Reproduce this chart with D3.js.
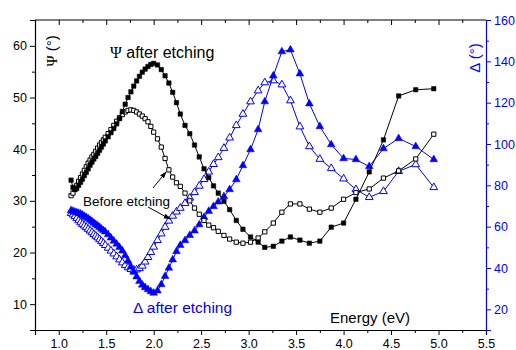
<!DOCTYPE html>
<html>
<head>
<meta charset="utf-8">
<script src="https://cdn.jsdelivr.net/npm/d3@7"></script>
<style>
  body { margin: 0; background: #fff; }
  svg { font-family: "Liberation Sans", Arial, sans-serif; }
</style>
</head>
<body>
<div id="chart"></div>
<script>
// Ellipsometry: Psi and Delta before / after etching vs photon energy

const energy = [1.13, 1.15, 1.17, 1.19, 1.21, 1.23, 1.25, 1.27, 1.29, 1.31, 1.33, 1.35, 1.37, 1.39, 1.41, 1.43, 1.45, 1.47, 1.49,
  1.52, 1.55, 1.58, 1.61, 1.64, 1.67, 1.70, 1.73, 1.76, 1.79, 1.82, 1.85, 1.88, 1.91, 1.94, 1.97, 2.00,
  2.04, 2.08, 2.12, 2.16, 2.20, 2.24, 2.28, 2.33, 2.38, 2.43, 2.48, 2.53, 2.58, 2.63, 2.68, 2.74, 2.80, 2.87, 2.94,
  3.02, 3.10, 3.17, 3.26, 3.35, 3.44, 3.54, 3.64, 3.75, 3.87, 4.00, 4.13, 4.27, 4.42, 4.58, 4.76, 4.95];

const psiAfter = [34.0, 32.6, 32.2, 32.4, 33.0, 33.6, 34.2, 34.9, 35.5, 36.2, 36.9, 37.5, 38.1, 38.6, 39.2, 39.8, 40.4, 41.0, 41.6,
  42.4, 43.2, 44.0, 44.9, 45.9, 47.3, 48.7, 50.0, 51.1, 52.2, 53.2, 54.1, 54.9, 55.5, 56.0, 56.4, 56.6,
  56.3, 55.4, 54.2, 52.8, 51.0, 49.0, 46.8, 44.6, 43.0, 40.8, 38.5, 36.2, 34.5, 32.9, 31.5, 29.9, 28.3, 26.2, 24.5,
  23.0, 22.0, 21.0, 21.2, 22.2, 23.0, 22.4, 21.8, 22.2, 24.9, 25.7, 30.3, 35.6, 41.8, 50.3, 51.5, 51.7];

const psiBefore = [31.0, 31.5, 32.2, 33.0, 33.8, 34.5, 35.2, 35.9, 36.6, 37.3, 37.9, 38.5, 39.0, 39.6, 40.2, 40.8, 41.3, 41.8, 42.3,
  43.0, 43.8, 44.6, 45.4, 46.1, 46.7, 47.2, 47.5, 47.6, 47.5, 47.2, 46.8, 46.4, 45.9, 45.3, 44.4, 43.3,
  42.0, 40.4, 38.2, 36.0, 34.6, 33.5, 32.8, 31.5, 30.0, 28.6, 27.4, 26.2, 25.3, 24.8, 24.1, 23.3, 22.6, 22.0, 21.8,
  22.0, 22.8, 24.0, 25.7, 27.8, 29.4, 29.4, 28.4, 27.8, 28.6, 30.3, 31.6, 32.3, 34.4, 35.8, 38.1, 42.9];

const deltaAfter = [67.8, 67.5, 67.1, 66.8, 66.5, 66.2, 65.6, 65.0, 64.5, 63.9, 63.2, 62.5, 61.8, 61.1, 60.4, 59.7, 58.9, 58.2, 57.5,
  56.2, 54.6, 53.1, 51.6, 50.0, 48.3, 46.0, 43.4, 40.6, 38.0, 35.8, 33.6, 31.8, 30.6, 29.6, 28.6, 27.9,
  29.0, 32.0, 36.0, 40.0, 44.0, 48.0, 51.0, 53.3, 55.8, 58.0, 61.0, 64.6, 67.5, 69.8, 72.0, 74.6, 78.0, 82.8, 89.6,
  97.3, 107.0, 120.5, 133.0, 144.7, 145.6, 134.0, 119.5, 108.5, 99.7, 93.0, 92.5, 89.1, 97.8, 102.7, 98.8, 92.5];

const deltaBefore = [66.5, 65.8, 65.0, 64.0, 63.0, 62.0, 61.2, 60.4, 59.6, 58.8, 58.0, 57.2, 56.3, 55.5, 54.7, 53.8, 52.9, 52.0, 51.0,
  49.7, 48.3, 46.9, 45.5, 44.0, 42.6, 41.3, 40.2, 39.4, 39.0, 39.2, 39.8, 41.0, 43.0, 45.2, 47.6, 50.2,
  53.4, 56.6, 59.8, 62.8, 65.2, 67.2, 69.0, 71.3, 73.9, 76.6, 79.7, 82.9, 86.5, 90.2, 93.5, 98.0, 103.0, 109.0, 114.5,
  120.5, 125.8, 129.7, 130.7, 128.7, 121.0, 108.4, 98.8, 92.7, 88.2, 83.2, 78.0, 74.2, 77.1, 86.8, 90.1, 79.0];

const xTicks = [1.0, 1.5, 2.0, 2.5, 3.0, 3.5, 4.0, 4.5, 5.0, 5.5];
const xMinor = [0.75, 1.25, 1.75, 2.25, 2.75, 3.25, 3.75, 4.25, 4.75, 5.25];
const psiTicks = [10, 20, 30, 40, 50, 60];
const psiMinor = [5, 15, 25, 35, 45, 55, 65];
const deltaTicks = [20, 40, 60, 80, 100, 120, 140, 160];
const deltaMinor = [10, 30, 50, 70, 90, 110, 130, 150];

const width = 516, height = 350;
const margin = { top: 20, right: 30, bottom: 20, left: 35 };
const blue = "#0000ff";

const svg = d3.select("#chart").append("svg")
  .attr("width", width)
  .attr("height", height);

const x = d3.scaleLinear().domain([0.75, 5.5]).range([margin.left, width - margin.right]);
const yPsi = d3.scaleLinear().domain([5, 65]).range([height - margin.bottom, margin.top]);
const yDelta = d3.scaleLinear().domain([10, 160]).range([height - margin.bottom, margin.top]);

const x0 = x.range()[0], x1 = x.range()[1];
const yb = yPsi.range()[0], yt = yPsi.range()[1];

svg.append("defs").append("marker")
  .attr("id", "arrow")
  .attr("viewBox", "0 0 10 10")
  .attr("refX", 9).attr("refY", 5)
  .attr("markerWidth", 7).attr("markerHeight", 7)
  .attr("orient", "auto")
  .append("path").attr("d", "M0,1.5L10,5L0,8.5z").attr("fill", "#000");

// series: lines first, then markers
const series = [
  { vals: deltaBefore, y: yDelta, color: blue, shape: d3.symbolTriangle, filled: false, size: 26 },
  { vals: deltaAfter, y: yDelta, color: blue, shape: d3.symbolTriangle, filled: true, size: 26 },
  { vals: psiBefore, y: yPsi, color: "#000", shape: d3.symbolSquare, filled: false, size: 18 },
  { vals: psiAfter, y: yPsi, color: "#000", shape: d3.symbolSquare, filled: true, size: 20 }
];

series.forEach(s => {
  const pts = energy.map((e, i) => [e, s.vals[i]]);
  svg.append("path")
    .datum(pts)
    .attr("fill", "none")
    .attr("stroke", s.color)
    .attr("stroke-width", 1)
    .attr("d", d3.line().x(d => x(d[0])).y(d => s.y(d[1])));
  svg.append("g").selectAll("path")
    .data(pts)
    .join("path")
    .attr("transform", d => `translate(${x(d[0])},${s.y(d[1])})`)
    .attr("d", d3.symbol().type(s.shape).size(s.size))
    .attr("fill", s.filled ? s.color : "#fff")
    .attr("stroke", s.color)
    .attr("stroke-width", s.filled ? 0.5 : 1);
});

// axes
svg.append("g")
  .attr("transform", `translate(0,${yb})`)
  .call(d3.axisBottom(x).tickValues(xTicks).tickFormat(d3.format(".1f")).tickSize(5).tickPadding(4));
svg.append("g")
  .attr("transform", `translate(0,${yb})`)
  .call(d3.axisBottom(x).tickValues(xMinor).tickFormat("").tickSize(3))
  .call(g => g.select(".domain").remove());

svg.append("g")
  .attr("transform", `translate(0,${yt})`)
  .call(d3.axisTop(x).tickValues(xTicks).tickFormat("").tickSize(-5))
  .call(g => g.select(".domain").attr("d", `M${x0},0H${x1}`));
svg.append("g")
  .attr("transform", `translate(0,${yt})`)
  .call(d3.axisTop(x).tickValues(xMinor).tickFormat("").tickSize(-3))
  .call(g => g.select(".domain").remove());

svg.append("g")
  .attr("transform", `translate(${x0},0)`)
  .call(d3.axisLeft(yPsi).tickValues(psiTicks).tickSize(5).tickPadding(3));
svg.append("g")
  .attr("transform", `translate(${x0},0)`)
  .call(d3.axisLeft(yPsi).tickValues(psiMinor).tickFormat("").tickSize(3))
  .call(g => g.select(".domain").remove());

const right = svg.append("g")
  .attr("transform", `translate(${x1},0)`)
  .call(d3.axisRight(yDelta).tickValues(deltaTicks).tickSize(5).tickPadding(3));
svg.append("g")
  .attr("transform", `translate(${x1},0)`)
  .call(d3.axisRight(yDelta).tickValues(deltaMinor).tickFormat("").tickSize(3))
  .call(g => g.select(".domain").remove())
  .selectAll("line").attr("stroke", blue);
right.selectAll("line, path").attr("stroke", blue);
right.selectAll("text").attr("fill", blue);

svg.selectAll(".tick text").style("font-size", "12.5px").style("font-family", "Liberation Sans, Arial, sans-serif");
svg.selectAll(".domain").attr("stroke-width", 1.2);

// axis titles
svg.append("text")
  .attr("transform", `translate(57,51) rotate(-90)`)
  .attr("text-anchor", "middle")
  .style("font-size", "15px")
  .html('<tspan font-family="Liberation Serif, Times New Roman, serif">Ψ</tspan> (°)');

svg.append("text")
  .attr("transform", `translate(480,58) rotate(-90)`)
  .attr("text-anchor", "middle")
  .attr("fill", blue)
  .style("font-size", "15px")
  .text("Δ (°)");

svg.append("text")
  .attr("x", 330).attr("y", 323)
  .style("font-size", "15px")
  .text("Energy (eV)");

// annotations
svg.append("text")
  .attr("x", 110).attr("y", 58)
  .style("font-size", "16px")
  .html('<tspan font-family="Liberation Serif, Times New Roman, serif">Ψ</tspan> after etching');

svg.append("text")
  .attr("x", 133).attr("y", 313)
  .attr("fill", blue)
  .style("font-size", "15.5px")
  .text("Δ after etching");

svg.append("text")
  .attr("x", 83).attr("y", 206)
  .style("font-size", "13.5px")
  .text("Before etching");

svg.append("line")
  .attr("x1", 153).attr("y1", 188).attr("x2", 166).attr("y2", 172)
  .attr("stroke", "#000").attr("stroke-width", 1)
  .attr("marker-end", "url(#arrow)");
svg.append("line")
  .attr("x1", 148).attr("y1", 207).attr("x2", 170).attr("y2", 219)
  .attr("stroke", "#000").attr("stroke-width", 1)
  .attr("marker-end", "url(#arrow)");
</script>
</body>
</html>
